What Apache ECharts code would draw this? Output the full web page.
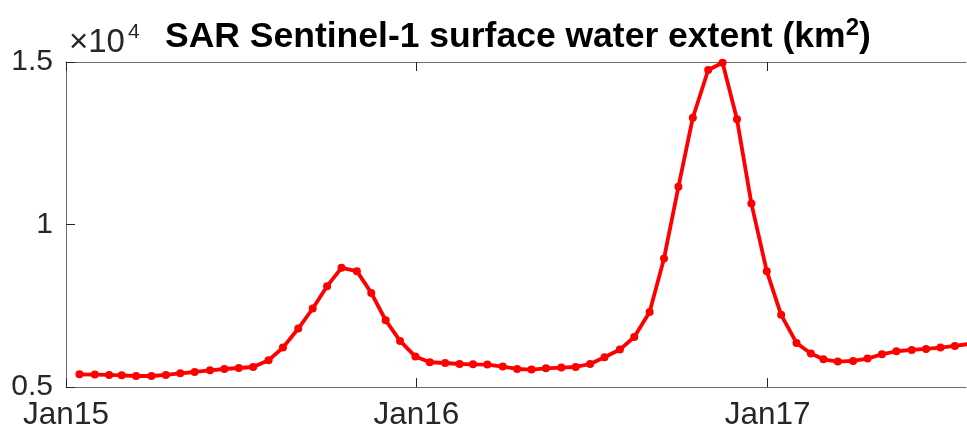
<!DOCTYPE html>
<html>
<head>
<meta charset="utf-8">
<script src="https://cdn.jsdelivr.net/npm/echarts@6/dist/echarts.min.js"></script>
<style>
html,body{margin:0;padding:0;background:#fff;}
#chart{width:967px;height:433px;}
</style>
</head>
<body>
<div id="chart"></div>
<script>
const dates = [
  '2015-01-15','2015-01-31','2015-02-15','2015-02-28','2015-03-15','2015-03-31',
  '2015-04-15','2015-04-30','2015-05-15','2015-05-31','2015-06-15','2015-06-30',
  '2015-07-15','2015-07-31','2015-08-15','2015-08-31','2015-09-15','2015-09-30',
  '2015-10-15','2015-10-31','2015-11-15','2015-11-30','2015-12-15','2015-12-31',
  '2016-01-15','2016-01-31','2016-02-15','2016-02-29','2016-03-15','2016-03-31',
  '2016-04-15','2016-04-30','2016-05-15','2016-05-31','2016-06-15','2016-06-30',
  '2016-07-15','2016-07-31','2016-08-15','2016-08-31','2016-09-15','2016-09-30',
  '2016-10-15','2016-10-31','2016-11-15','2016-11-30','2016-12-15','2016-12-31',
  '2017-01-15','2017-01-31','2017-02-15','2017-02-28','2017-03-15','2017-03-31',
  '2017-04-15','2017-04-30','2017-05-15','2017-05-31','2017-06-15','2017-06-30',
  '2017-07-15','2017-07-31'
];
const waterExtent = [
  5391, 5382, 5370, 5360, 5339, 5339, 5370, 5422, 5462, 5514, 5554, 5585,
  5616, 5822, 6213, 6799, 7415, 8102, 8666, 8564, 7895, 7054, 6417, 5936,
  5761, 5739, 5708, 5699, 5690, 5628, 5554, 5536, 5576, 5598, 5616, 5708,
  5915, 6152, 6540, 7310, 8955, 11160, 13285, 14754, 14979, 13236, 10649, 8564,
  7220, 6355, 6029, 5853, 5782, 5801, 5875, 6007, 6100, 6140, 6170, 6213,
  6263, 6330
];
const xTickDates = ['2015-01-01', '2016-01-01', '2017-01-01'];
const xTickLabels = ['Jan15', 'Jan16', 'Jan17'];
const yTicks = [5000, 10000, 15000];
const yTickLabels = ['0.5', '1', '1.5'];
const xMin = '2015-01-01';
const xMax = '2017-07-26T14:00:00';

function ts(s) { return echarts.time.parse(s).getTime(); }
const xTickTs = xTickDates.map(ts);
const seriesData = dates.map((d, i) => [ts(d), waterExtent[i]]);

const FONT = '"Liberation Sans", Arial, Helvetica, sans-serif';
const TXT = '#262626';
const AX = '#6e6e6e';

function xLabel(v) {
  for (let i = 0; i < xTickTs.length; i++) {
    if (Math.abs(xTickTs[i] - v) < 1000) return xTickLabels[i];
  }
  return '';
}

const chart = echarts.init(document.getElementById('chart'));
chart.setOption({
  animation: false,
  backgroundColor: '#ffffff',
  grid: { left: 66, top: 62, right: 1, bottom: 46, containLabel: false },
  title: {
    left: 160, top: 6,
    text: '{a|SAR Sentinel-1 surface water extent (km}{s|2}{a|)}',
    textStyle: {
      rich: {
        a: { fontFamily: FONT, fontWeight: 'bold', fontSize: 35.5, color: '#000', lineHeight: 44, verticalAlign: 'bottom' },
        s: { fontFamily: FONT, fontWeight: 'bold', fontSize: 24, color: '#000', lineHeight: 44, verticalAlign: 'bottom', padding: [0, 0, 15, 0] }
      }
    }
  },
  graphic: [
    { type: 'text', left: 69, top: 26, silent: true,
      style: { text: '×10', fontSize: 33, fontFamily: FONT, fill: TXT } },
    { type: 'text', left: 128, top: 22, silent: true,
      style: { text: '4', fontSize: 21, fontFamily: FONT, fill: TXT } }
  ],
  xAxis: [
    {
      type: 'value', position: 'bottom',
      min: ts(xMin), max: ts(xMax),
      axisLine: { show: true, lineStyle: { color: AX, width: 1 } },
      axisTick: { show: true, inside: true, length: 9, lineStyle: { color: TXT }, customValues: xTickTs },
      axisLabel: {
        show: true, customValues: xTickTs, margin: 12,
        fontFamily: FONT, fontSize: 31.5, color: TXT,
        formatter: xLabel
      },
      splitLine: { show: false }
    },
    {
      type: 'value', position: 'top',
      min: ts(xMin), max: ts(xMax),
      axisLine: { show: true, lineStyle: { color: AX, width: 1 } },
      axisTick: { show: true, inside: true, length: 9, lineStyle: { color: TXT }, customValues: xTickTs },
      axisLabel: { show: false },
      splitLine: { show: false }
    }
  ],
  yAxis: [
    {
      type: 'value', min: 5000, max: 15000, interval: 5000,
      axisLine: { show: true, lineStyle: { color: AX, width: 1 } },
      axisTick: { show: true, inside: true, length: 9, lineStyle: { color: TXT } },
      axisLabel: {
        margin: 13, fontFamily: FONT, fontSize: 30, color: TXT,
        formatter: function (v) {
          const i = yTicks.indexOf(v);
          return i >= 0 ? yTickLabels[i] : '';
        }
      },
      splitLine: { show: false }
    }
  ],
  series: [
    {
      type: 'line',
      xAxisIndex: 0, yAxisIndex: 0,
      data: seriesData,
      clip: true,
      symbol: 'circle', symbolSize: 8,
      showAllSymbol: true,
      lineStyle: { color: '#ff0000', width: 3.8 },
      itemStyle: { color: '#ff0000' }
    }
  ]
});
</script>
</body>
</html>
